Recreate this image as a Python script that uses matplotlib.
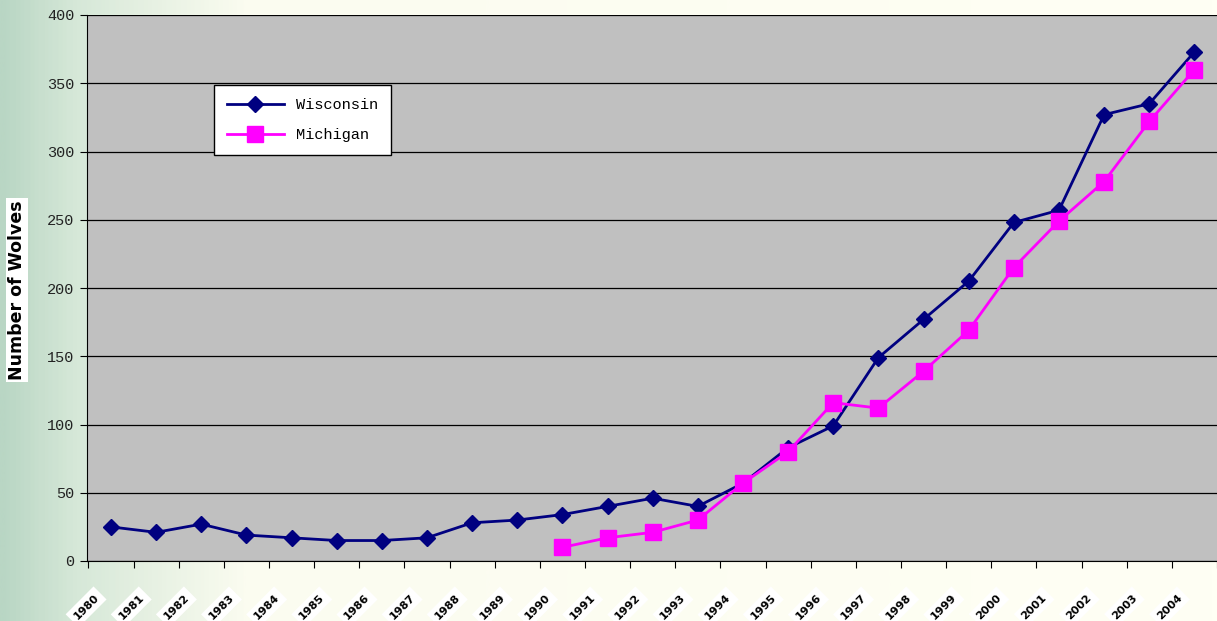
import numpy as np
import matplotlib.pyplot as plt
from matplotlib.colors import LinearSegmentedColormap

# data
years = [str(y) for y in range(1980, 2005)]
wisconsin = [25, 21, 27, 19, 17, 15, 15, 17, 28, 30, 34, 40, 46, 40, 57,
             83, 99, 149, 177, 205, 248, 257, 327, 335, 373]
michigan_years = [str(y) for y in range(1990, 2005)]
michigan = [10, 17, 21, 30, 57, 80, 116, 112, 139, 169, 215, 249, 278, 322, 360]

fig = plt.figure(figsize=(12.17, 6.21), dpi=100)

# greenish to cream background
bg = fig.add_axes([0, 0, 1, 1], zorder=-10)
grad = np.linspace(0, 1, 600).reshape(1, -1)
cmap = LinearSegmentedColormap.from_list("bg", [(0, "#b9d6c4"), (0.06, "#d6e8d8"),
                                                (0.2, "#fbfcf0"), (1, "#fffff4")])
bg.imshow(grad, aspect="auto", cmap=cmap, extent=[0, 1, 0, 1])
bg.set_axis_off()

W, H = 1217, 621
ax = fig.add_axes([87 / W, (H - 561) / H, (W - 87) / W, (561 - 15) / H])
ax.set_facecolor("#c0c0c0")

x_idx = {y: i for i, y in enumerate(years)}
xw = [x_idx[y] for y in years]
xm = [x_idx[y] for y in michigan_years]

ax.plot(xw, wisconsin, color="#000080", lw=2, marker="D", ms=8,
        label="Wisconsin", zorder=3)
ax.plot(xm, michigan, color="#ff00ff", lw=2, marker="s", ms=11,
        label="Michigan", zorder=3)

ax.set_xlim(-0.53, 24.42)
ax.set_ylim(0, 400)
ax.set_yticks(range(0, 401, 50))
ax.yaxis.grid(True, color="black", lw=0.9)
ax.set_axisbelow(True)
for s in ["top", "right"]:
    ax.spines[s].set_visible(False)
ax.tick_params(axis="y", direction="out", length=5, labelsize=11, pad=4,
               labelcolor="#222222")
for t in ax.get_yticklabels():
    t.set_family("Liberation Mono")

ax.set_xticks(np.arange(-0.5, len(years), 1))
ax.set_xticklabels([])
ax.tick_params(axis="x", direction="out", length=5)
for i, y in enumerate(years):
    ax.text(i - 0.55, -23, y, rotation=45, ha="center", va="top",
            fontsize=8, fontweight="bold", family="DejaVu Sans",
            bbox=dict(facecolor="white", edgecolor="none", pad=3),
            clip_on=False)

fig.text(17 / W, 1 - 290 / H, "Number of Wolves", rotation=90, ha="center",
         va="center", fontsize=12.5, fontweight="heavy",
         bbox=dict(facecolor="white", edgecolor="none", pad=1.5))

leg = ax.legend(loc="upper left", bbox_to_anchor=(0.1124, 0.872), frameon=True,
                borderaxespad=0, fancybox=False, edgecolor="black", framealpha=1,
                prop={"family": "Liberation Mono", "size": 11},
                handlelength=3.7, borderpad=0.85, labelspacing=1.05)
leg.get_frame().set_linewidth(1)

fig.savefig("out.png", dpi=100)
